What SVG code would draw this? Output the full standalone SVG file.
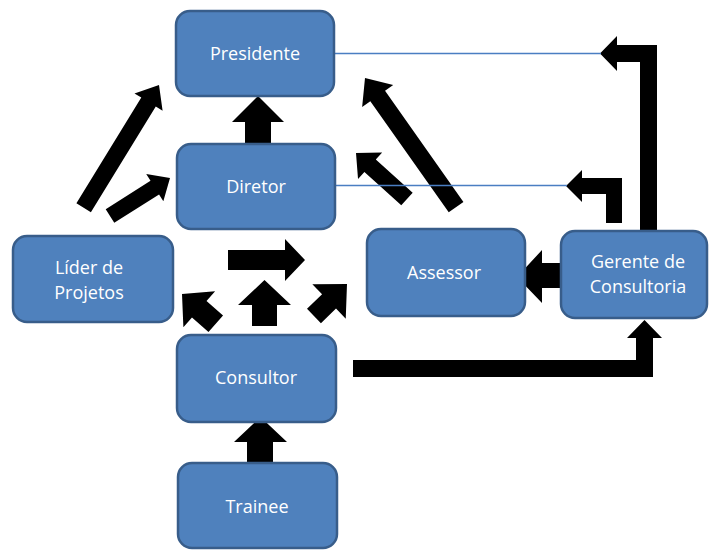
<svg xmlns="http://www.w3.org/2000/svg" width="709" height="550" viewBox="0 0 709 550">
<style>
.box{fill:#4F81BD;stroke:#385D8A;stroke-width:2.5}
.lbl{font-family:"Open Sans","Liberation Sans",sans-serif;font-size:18px;fill:#FFFFFF;text-anchor:middle}
.arr{fill:#000000}
.ln{stroke:#4A7EC2;stroke-width:1.5;fill:none}
</style>
<rect width="709" height="550" fill="#FFFFFF"/>
<g id="connectors">
<polygon class="arr" points="245,144 245,122 232,122 258,96 284,122 271,122 271,144"/>
<polygon class="arr" transform="translate(159,85) rotate(-58.45)" points="-144,-8.5 -20,-8.5 -20,-16.5 0,0 -20,16.5 -20,8.5 -144,8.5"/>
<polygon class="arr" transform="translate(170,178) rotate(-32.3)" points="-71,-8 -18,-8 -18,-16 0,0 -18,16 -18,8 -71,8"/>
<polygon class="arr" transform="translate(365,78) rotate(-125.2)" points="-158,-9 -22,-9 -22,-19 0,0 -22,19 -22,9 -158,9"/>
<polygon class="arr" transform="translate(356,153) rotate(-137.9)" points="-68.7,-8.5 -19,-8.5 -19,-18 0,0 -19,18 -19,8.5 -68.7,8.5"/>
<polygon class="arr" transform="translate(182,294) rotate(-138.6)" points="-45,-11 -23,-11 -23,-24 0,0 -23,24 -23,11 -45,11"/>
<polygon class="arr" transform="translate(347,284) rotate(-44.1)" points="-46,-10 -25,-10 -25,-24 0,0 -25,24 -25,10 -46,10"/>
<polygon class="arr" points="228,250 285,250 285,239 305,260 285,281 285,270 228,270"/>
<polygon class="arr" points="252,326 252,305 238,305 264.5,280 291,305 277,305 277,326"/>
<polygon class="arr" points="561,263 542,263 542,250 517,277 542,303 542,288 561,288"/>
<polygon class="arr" points="353,360 636,360 636,338 627,338 644.5,320 662,338 653,338 653,377 353,377"/>
<polygon class="arr" points="247,463 247,442 234,442 260.5,417 287,442 273,442 273,463"/>
<polygon class="arr" points="600,53.5 617,36 617,45 657,45 657,232 640,232 640,62 617,62 617,71"/>
<polygon class="arr" points="566,186 582,170 582,178 622,178 622,223 606,223 606,194 582,194 582,202"/>
<line class="ln" x1="334" y1="53.5" x2="601" y2="53.5"/>
<line class="ln" x1="335" y1="185.5" x2="567" y2="185.5"/>
</g>
<g id="presidente">
<rect class="box" x="176" y="11" width="158" height="85" rx="14"/>
<text class="lbl" x="255" y="60">Presidente</text>
</g>
<g id="diretor">
<rect class="box" x="177" y="144" width="158" height="85" rx="14"/>
<text class="lbl" x="256" y="193">Diretor</text>
</g>
<g id="lider">
<rect class="box" x="13" y="236" width="160" height="86" rx="14"/>
<text class="lbl" x="89" y="274">Líder de</text>
<text class="lbl" x="89" y="299">Projetos</text>
</g>
<g id="assessor">
<rect class="box" x="367" y="229" width="158" height="87" rx="14"/>
<text class="lbl" x="444" y="279">Assessor</text>
</g>
<g id="gerente">
<rect class="box" x="561" y="231" width="146" height="87" rx="14"/>
<text class="lbl" x="638" y="268">Gerente de</text>
<text class="lbl" x="638" y="293">Consultoria</text>
</g>
<g id="consultor">
<rect class="box" x="177" y="335" width="159" height="87" rx="14"/>
<text class="lbl" x="256" y="384">Consultor</text>
</g>
<g id="trainee">
<rect class="box" x="178" y="463" width="159" height="85" rx="14"/>
<text class="lbl" x="257" y="513">Trainee</text>
</g>
</svg>
